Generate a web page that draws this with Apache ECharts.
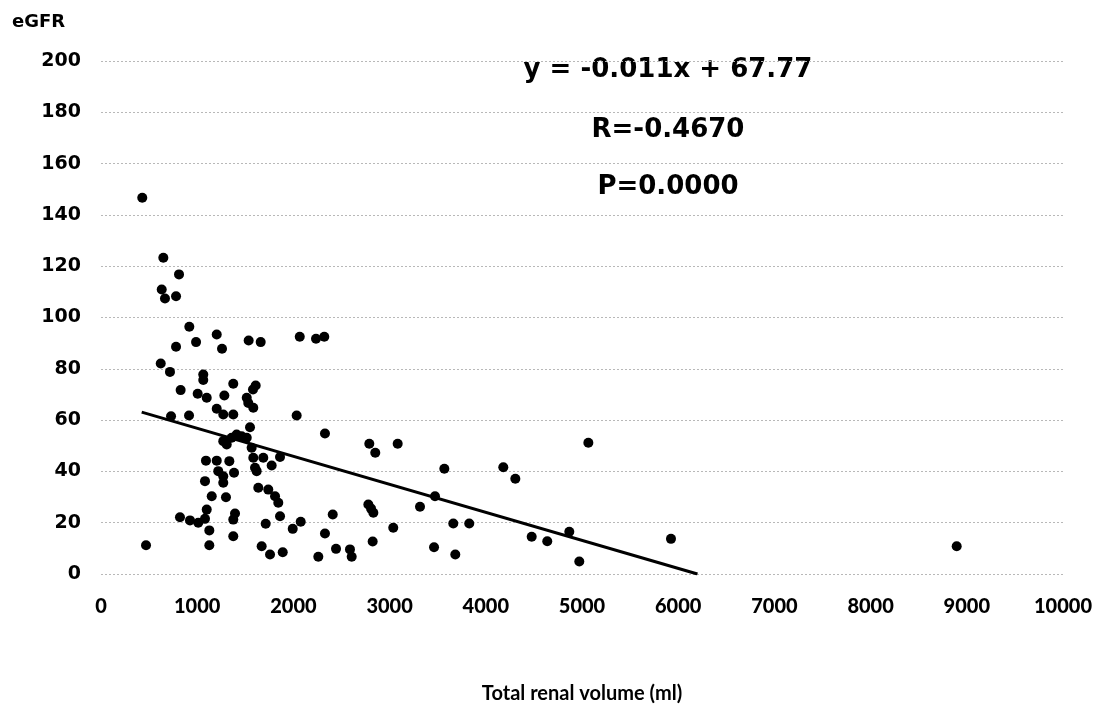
<!DOCTYPE html>
<html>
<head>
<meta charset="utf-8">
<script src="https://cdn.jsdelivr.net/npm/echarts@6/dist/echarts.min.js"></script>
<style>
html,body{margin:0;padding:0;background:#fff;}
#chart{width:1099px;height:709px;}
</style>
</head>
<body>
<div id="chart"></div>
<script>
// Total renal volume (ml)
var volume = [429,648,811,631,665,780,918,1203,988,780,1258,1535,1660,2066,2235,2321,621,717,1063,1063,
  1375,1608,1580,828,1005,1099,1282,1515,1531,1583,1203,1271,1375,728,915,2034,1549,2328,1271,1358,
  1410,1462,1515,1307,1566,1583,1687,1861,1774,1091,1203,1334,1219,1271,1383,1601,1618,1081,1271,1635,
  1739,1809,1843,1151,1299,1099,821,925,1011,1081,1393,1375,1126,1375,468,1126,1861,1712,1993,2076,
  1670,1757,1889,2259,2328,2409,2443,2789,2851,3084,5066,3569,4182,4307,3472,3316,2779,2831,2807,3038,
  3662,3828,2588,2606,2824,3462,3683,4477,4639,4868,4972,5925,8895];
// eGFR
var egfr = [146.7,123.3,116.8,110.9,107.4,108.3,96.4,93.4,90.4,88.6,87.8,91.0,90.4,92.5,91.7,92.5,82.1,78.8,77.8,75.6,
  74.2,73.5,71.9,71.7,70.3,68.7,69.6,68.7,66.7,64.8,64.4,62.2,62.2,61.5,61.8,61.8,57.2,54.8,51.8,53.1,
  54.4,53.7,53.1,50.5,49.2,45.3,45.3,45.6,42.3,44.2,44.2,44.0,40.1,38.1,39.5,41.4,40.1,36.2,35.6,33.6,
  32.9,30.3,27.8,30.3,29.9,25.1,22.1,20.9,20.0,21.5,23.6,21.2,17.0,14.7,11.2,11.2,22.5,19.6,17.6,20.4,
  10.8,7.6,8.5,6.7,15.8,23.2,9.8,50.8,47.3,50.8,51.2,41.0,41.6,37.1,30.3,26.2,27.1,23.9,25.5,18.0,
  19.7,19.7,9.6,6.7,12.7,10.4,7.6,14.5,12.8,16.5,4.9,13.7,10.8];
// Trend line end points
var trendX = [423, 6200];
var trendY = [63.1, 0];
var annotations = ['y = -0.011x + 67.77', 'R=-0.4670', 'P=0.0000'];
var yAxisTitle = 'eGFR';
var xAxisTitle = 'Total renal volume (ml)';

var points = volume.map(function (v, i) { return [v, egfr[i]]; });
var trend = trendX.map(function (v, i) { return [v, trendY[i]]; });

var chart = echarts.init(document.getElementById('chart'), null, {renderer: 'canvas'});
var annY = [70, 130, 187];
var option = {
  animation: false,
  backgroundColor: '#fff',
  grid: {left: 101, right: 36, top: 61, bottom: 135, containLabel: false, outerBoundsMode: 'none'},
  xAxis: {
    type: 'value', min: 0, max: 10000, interval: 1000,
    axisLine: {show: false}, axisTick: {show: false},
    splitLine: {show: false},
    axisLabel: {color: '#000', fontFamily: 'Lato', fontWeight: 900, fontSize: 20, margin: 23,
      formatter: function (v) { return String(v); }},
    name: xAxisTitle, nameLocation: 'middle', nameGap: 110,
    nameTextStyle: {color: '#000', fontFamily: 'Lato', fontWeight: 'bold', fontSize: 20}
  },
  yAxis: {
    type: 'value', min: 0, max: 200, interval: 20,
    axisLine: {show: false}, axisTick: {show: false},
    splitLine: {show: true, lineStyle: {color: '#b8b8b8', width: 1, type: [2, 2]}},
    axisLabel: {color: '#000', fontFamily: 'DejaVu Sans', fontWeight: 'bold', fontSize: 19, margin: 20}
  },
  graphic: [
    {type: 'text', left: 12, top: 13, style: {text: yAxisTitle, fill: '#000', font: 'bold 18px "DejaVu Sans"'}}
  ].concat(annotations.map(function (t, i) {
    return {type: 'text', x: 668, y: annY[i], style: {text: t, fill: '#000', font: 'bold 26px "DejaVu Sans"', align: 'center', verticalAlign: 'middle'}};
  })),
  series: [
    {type: 'scatter', data: points, symbol: 'circle', symbolSize: 10, itemStyle: {color: '#000', opacity: 1}, z: 3},
    {type: 'line', data: trend, showSymbol: false, lineStyle: {color: '#000', width: 3}, z: 2}
  ]
};
chart.setOption(option);
</script>
</body>
</html>
